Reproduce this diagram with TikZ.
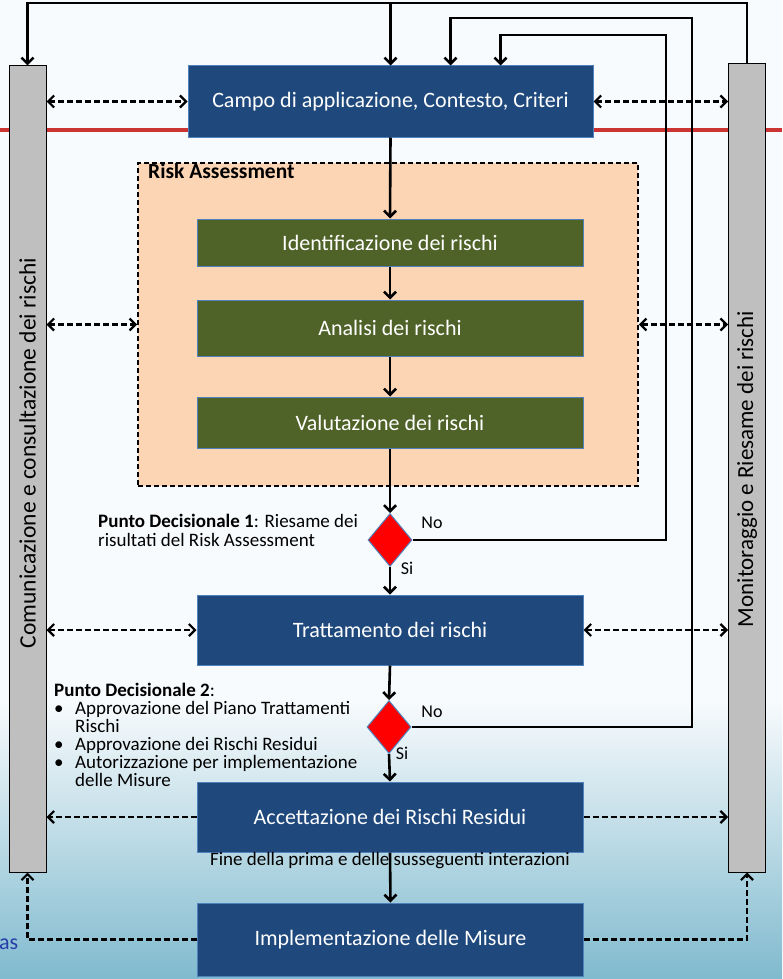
\documentclass[tikz,border=0pt]{standalone}
\usepackage{fontspec}
\setmainfont{Carlito}
\usepackage{xcolor}
\usepackage{tikz}
\usetikzlibrary{shapes.geometric, arrows.meta, calc, positioning}

\definecolor{boxblue}{RGB}{31,73,125}
\definecolor{boxedge}{RGB}{79,129,189}
\definecolor{boxgreen}{RGB}{79,98,40}
\definecolor{peach}{RGB}{252,213,181}
\definecolor{slidered}{RGB}{204,51,51}
\definecolor{bargray}{RGB}{191,191,191}
\definecolor{bgtop}{RGB}{248,251,253}
\definecolor{bgbottom}{RGB}{128,186,206}
\definecolor{slideblue}{RGB}{40,60,170}

\begin{document}
\begin{tikzpicture}[
    x=1pt, y=-1pt,
    >={Straight Barb[length=6pt,width=12pt]},
    phase/.style={rectangle, draw=boxedge, line width=1pt, fill=boxblue, text=white, minimum width=386pt, minimum height=70pt, font=\fontsize{22}{26}\selectfont},
    stepbox/.style={rectangle, draw=boxedge, line width=1pt, fill=boxgreen, text=white, minimum width=386pt, font=\fontsize{22}{26}\selectfont},
    bar/.style={rectangle, draw, line width=1pt, fill=bargray, minimum width=37pt},
    decision/.style={diamond, draw=boxedge, line width=1pt, fill=red, minimum width=44pt, minimum height=53pt, inner sep=0pt},
    flow/.style={->, line width=2.6pt},
    dashflow/.style={line width=2.2pt, dash pattern=on 6pt off 3pt},
    note/.style={align=left, inner sep=0pt, font=\fontsize{18}{19}\selectfont}
]

% Background
\useasboundingbox (0,0) rectangle (782,979);
\fill[bgtop] (0,0) rectangle (782,700);
\shade[top color=bgtop, bottom color=bgbottom] (0,700) rectangle (782,979);
\draw[slidered, line width=4pt] (0,130) -- (782,130);

% Side bars
\node[bar, minimum height=806pt] (comm_bar) at (27.5,469) {};
\node[bar, minimum height=808pt] (monit_bar) at (747,468) {};
\node[rotate=90, font=\fontsize{23.5}{26}\selectfont] (comm_label) at (27.5,453) {Comunicazione e consultazione dei rischi};
\node[rotate=90, font=\fontsize{23}{26}\selectfont] (monit_label) at (747,469) {Monitoraggio e Riesame dei rischi};

% Context
\node[phase, minimum width=405pt, minimum height=71pt] (campo) at (390.5,101.5) {Campo di applicazione, Contesto, Criteri};

% Risk assessment
\node[draw, dash pattern=on 5pt off 3pt, line width=1.8pt, fill=peach, minimum width=500pt, minimum height=323pt] (ra_box) at (388,324.5) {};
\node[anchor=north west, inner sep=0pt, font=\fontsize{21.5}{24}\selectfont\bfseries] (ra_label) at (148,163) {Risk Assessment};
\node[stepbox, minimum height=47pt] (ident) at (390,242.5) {Identificazione dei rischi};
\node[stepbox, minimum height=56pt] (analisi) at (390,328) {Analisi dei rischi};
\node[stepbox, minimum height=51pt] (valut) at (390,422.5) {Valutazione dei rischi};

% Decision points and treatment
\node[decision] (dec1) at (390,540) {};
\node[phase] (tratt) at (390,630) {Trattamento dei rischi};
\node[decision] (dec2) at (389,727) {};
\node[phase] (accett) at (390,817) {Accettazione dei Rischi Residui};
\node[phase, minimum height=73pt] (impl) at (390.5,939.5) {Implementazione delle Misure};

% Labels
\node[note] (no1) at (432,523) {No};
\node[note] (si1) at (407,568) {Si};
\node[note] (no2) at (432,712) {No};
\node[note] (si2) at (402,753) {Si};
\node[note, anchor=north west, font=\fontsize{19}{19}\selectfont] (pd1) at (98,514) {\textbf{Punto Decisionale 1}: Riesame dei\\risultati del Risk Assessment};
\node[note, anchor=north west, font=\fontsize{19}{18}\selectfont] (pd2) at (54,683) {\textbf{Punto Decisionale 2}:\\
\makebox[21pt][l]{\textbullet}Approvazione del Piano Trattamenti\\
\hspace*{21pt}Rischi\\
\makebox[21pt][l]{\textbullet}Approvazione dei Rischi Residui\\
\makebox[21pt][l]{\textbullet}Autorizzazione per implementazione\\
\hspace*{21pt}delle Misure};
\node[note, font=\fontsize{19}{20}\selectfont] (fine) at (390,861) {Fine della prima e delle susseguenti interazioni};
\node[note, anchor=west, text=slideblue, font=\fontsize{22}{24}\selectfont] (as_text) at (-1,944) {as};

% Main flow
\coordinate (top_line) at (0,3);
\coordinate (loop1_top) at (666,35);
\coordinate (loop2_top) at (692,18);
\draw[flow] (monit_bar.north) -- (monit_bar.north |- top_line) -- (comm_bar.north |- top_line) -- (comm_bar.north);
\draw[flow] (campo.north |- top_line) -- (campo.north);
\draw[flow] (campo.south) -- (ident.north);
\draw[flow] (ident.south) -- (analisi.north);
\draw[flow] (analisi.south) -- (valut.north);
\draw[flow] (valut.south) -- (dec1.north);
\draw[flow] (dec1.south) -- (tratt.north);
\draw[flow] (tratt.south) -- (dec2.north);
\draw[flow] (dec2.south) -- (accett.north);
\draw[flow] (accett.south) -- (impl.north);

% Loops back to the context
\draw[flow] (dec1.east) -| (loop1_top) -| ([xshift=110pt]campo.north);
\draw[flow] (dec2.east) -| (loop2_top) -| ([xshift=60pt]campo.north);

% Communication and monitoring
\draw[dashflow, <->] (comm_bar.east |- campo.west) -- (campo.west);
\draw[dashflow, <->] (campo.east) -- (campo.east -| monit_bar.west);
\draw[dashflow, <->] (comm_bar.east |- ra_box.west) -- (ra_box.west);
\draw[dashflow, <->] (ra_box.east) -- (ra_box.east -| monit_bar.west);
\draw[dashflow, <->] (comm_bar.east |- tratt.west) -- (tratt.west);
\draw[dashflow, <->] (tratt.east) -- (tratt.east -| monit_bar.west);
\draw[dashflow, ->] (accett.west) -- (accett.west -| comm_bar.east);
\draw[dashflow, ->] (accett.east) -- (accett.east -| monit_bar.west);
\draw[dashflow, ->] (impl.west) -| (comm_bar.south);
\draw[dashflow, ->] (impl.east) -| (monit_bar.south);

\end{tikzpicture}
\end{document}
